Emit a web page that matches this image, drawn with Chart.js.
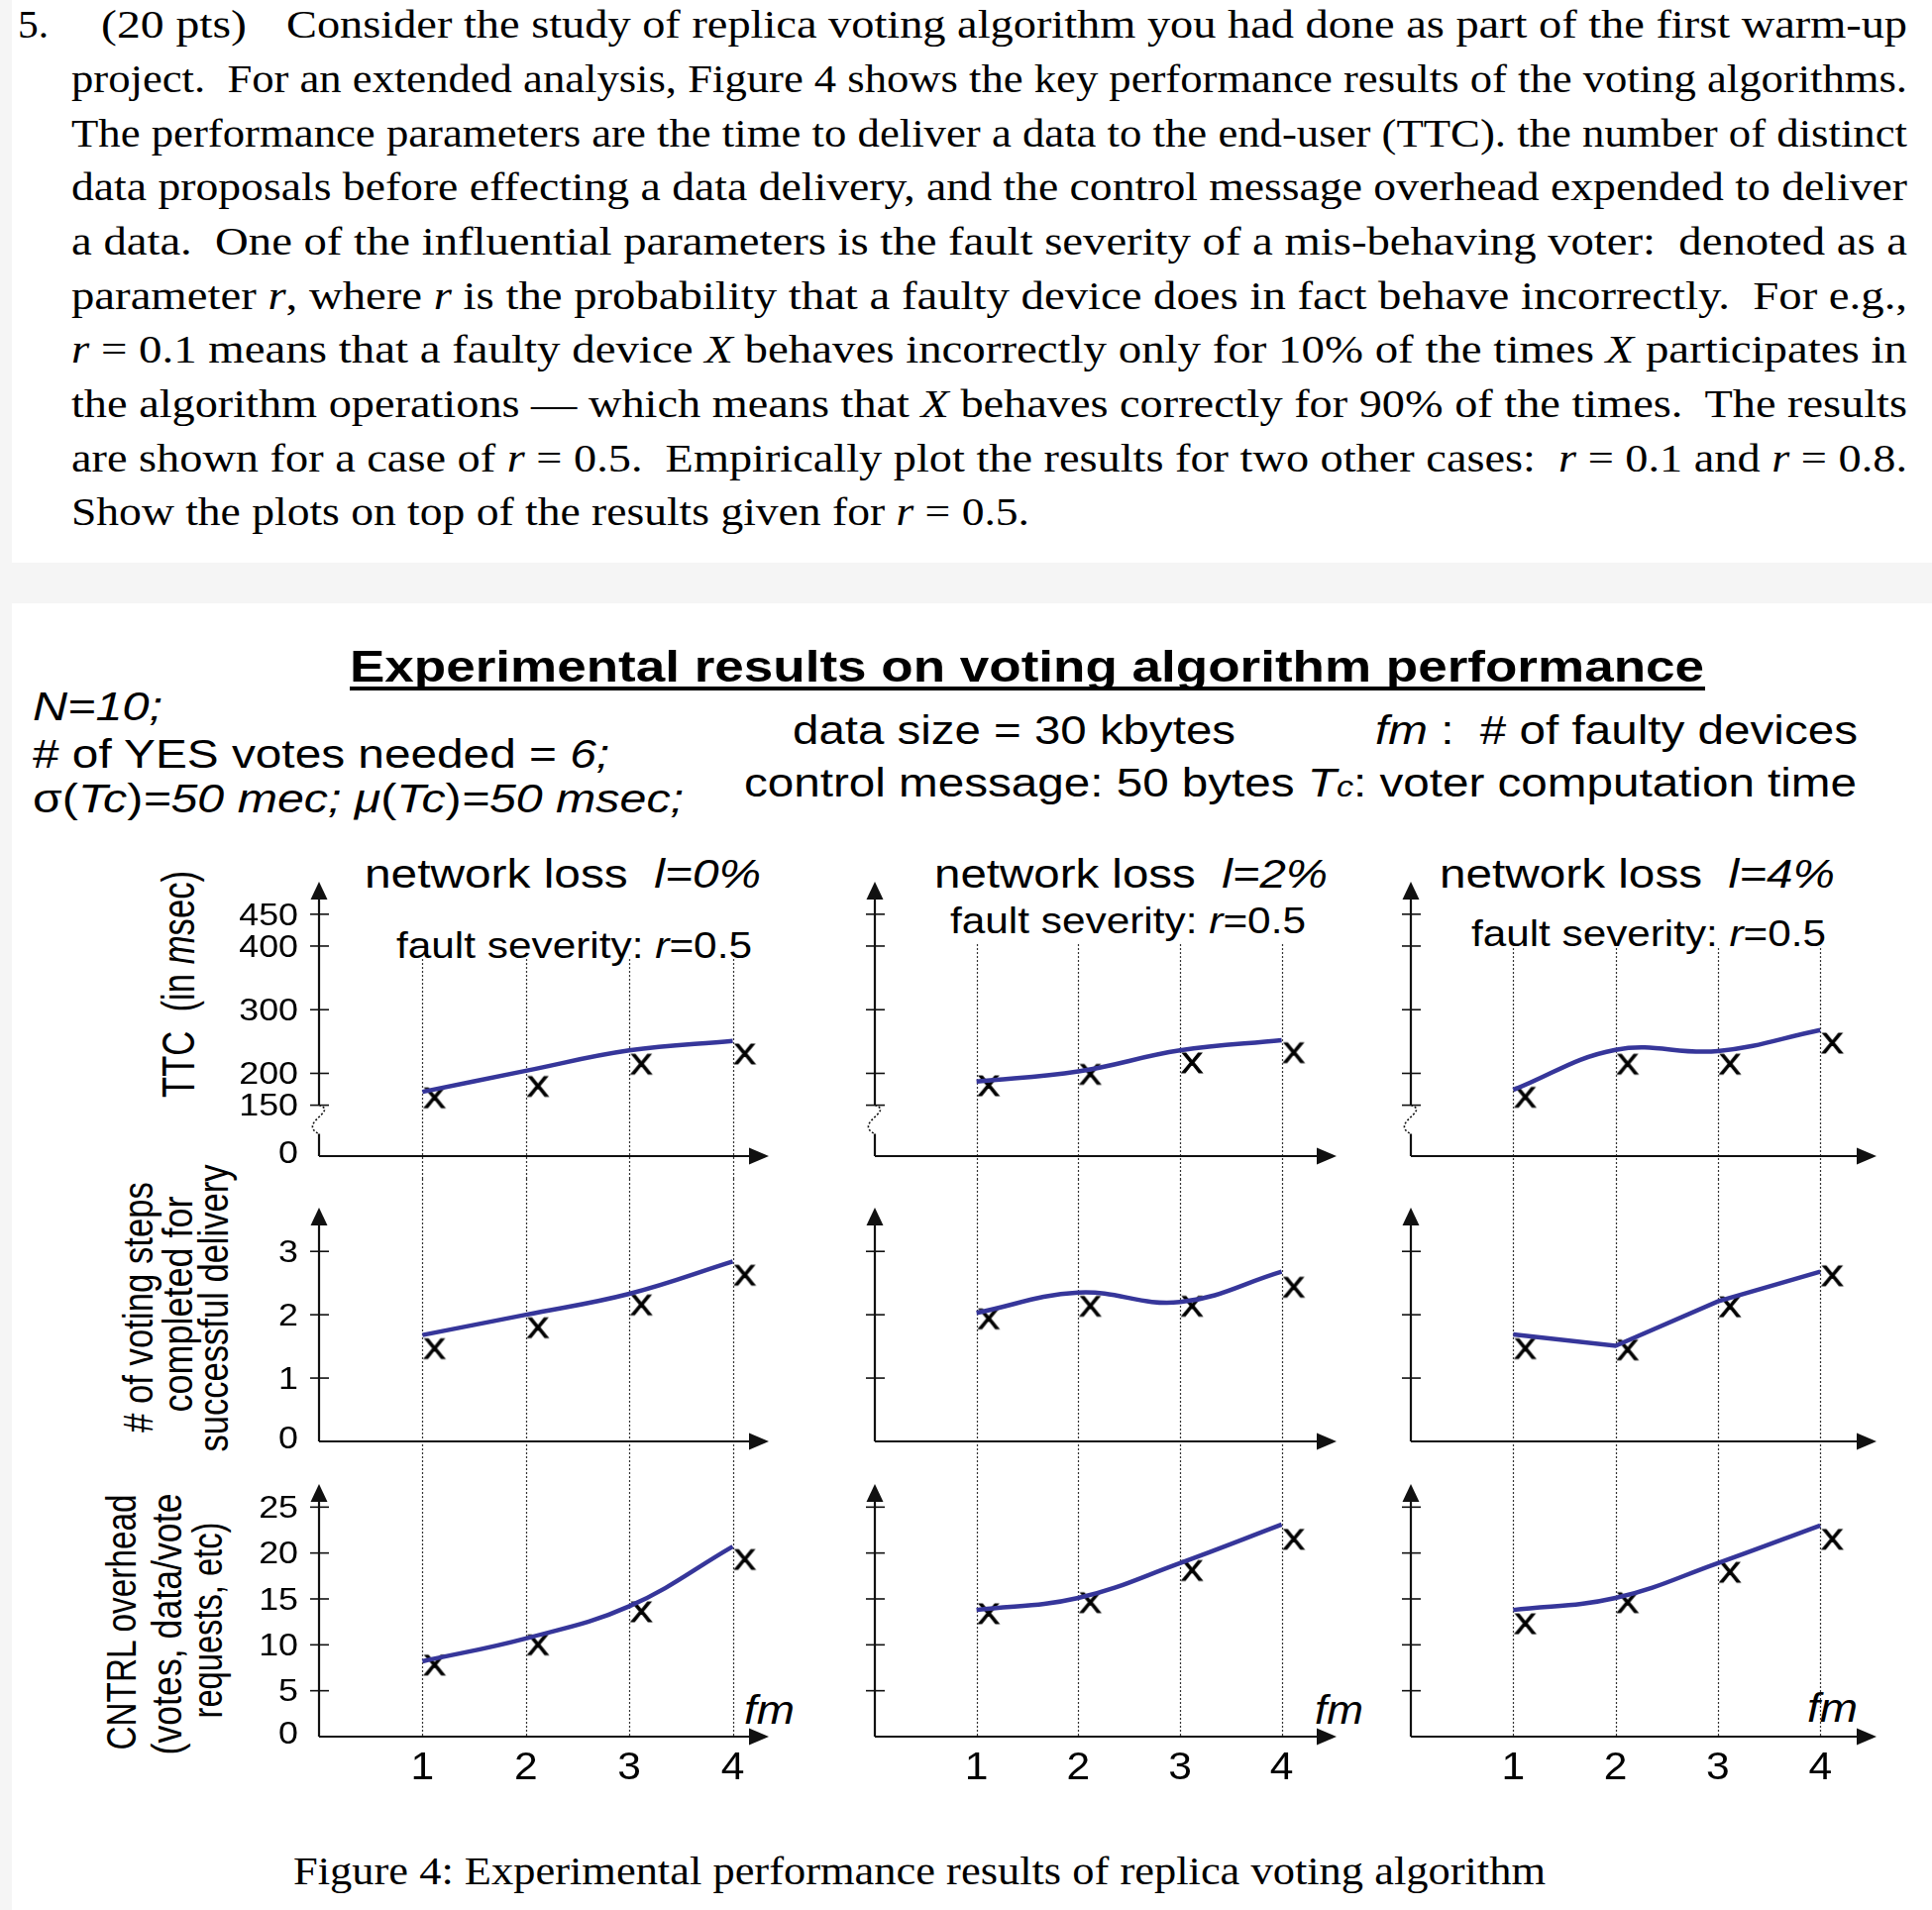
<!DOCTYPE html>
<html>
<head>
<meta charset="utf-8">
<script src="https://cdn.jsdelivr.net/npm/chart.js@4.4.0/dist/chart.umd.min.js"></script>
<style>
  body { margin: 0; width: 1950px; height: 1928px; background: #f5f5f5; position: relative; overflow: hidden; }
  .sheet { position: absolute; background: #fff; }
  .t { position: absolute; white-space: pre; line-height: 1; transform-origin: 0 0; color: #000;
       font-family: "Liberation Sans", Arial, sans-serif; }
  .serif { font-family: "Liberation Serif", "Times New Roman", serif; }
  canvas { position: absolute; }
</style>
</head>
<body>
<div class="sheet" style="left:12px;top:0;width:1938px;height:568px"></div>
<div class="sheet" style="left:12px;top:609px;width:1938px;height:1319px"></div>
<script>
// --- data (fm = number of faulty devices) ---
const fmValues = [1, 2, 3, 4];
const lossLabels = ['0%', '2%', '4%'];
const faultSeverity = '0.5';

// TTC (msec): fitted curve and measured "x" points, one array per network loss
const ttcCurve = [[171, 204, 236, 251], [187, 203, 236, 252], [174, 237, 235, 268]];
const ttcMarks = [[163, 181, 216, 232], [182, 200, 218, 234], [164, 216, 216, 249]];
// # of voting steps completed for successful delivery
const stepsCurve = [[1.68, 2.0, 2.33, 2.84], [2.03, 2.35, 2.2, 2.68], [1.69, 1.51, 2.21, 2.68]];
const stepsMarks = [[1.48, 1.81, 2.17, 2.64], [1.95, 2.15, 2.15, 2.45], [1.48, 1.46, 2.14, 2.63]];
// CNTRL overhead
const ctrlCurve = [[8.2, 10.7, 14.2, 20.7], [13.8, 15.1, 18.9, 23.1], [13.8, 15.1, 18.9, 23.0]];
const ctrlMarks = [[7.9, 10.1, 13.7, 19.4], [13.5, 14.7, 18.2, 21.6], [12.4, 14.7, 18.0, 21.6]];

// tick marks on the y axes
const ttcTicks = [150, 200, 300, 400, 450];
const stepsTicks = [1, 2, 3];
const ctrlTicks = [5, 10, 15, 20, 25];

const lineColor = '#36369a';

// --- helpers for text ---
function addText(html, x, w, cy, size, opts = {}) {
  const el = document.createElement('div');
  el.className = 't' + (opts.serif ? ' serif' : '');
  el.innerHTML = html;
  el.style.fontSize = size + 'px';
  if (opts.bold) el.style.fontWeight = 'bold';
  el.style.left = x + 'px';
  el.style.top = (cy - size * (opts.mid || 0.5)) + 'px';
  document.body.appendChild(el);
  const nat = el.getBoundingClientRect().width;
  el.style.transform = 'scaleX(' + (w / nat) + ')';
  return el;
}

function addVertical(html, cx, cy, len, size, thick) {
  const el = document.createElement('div');
  el.className = 't';
  el.innerHTML = html;
  el.style.fontSize = size + 'px';
  document.body.appendChild(el);
  const nat = el.getBoundingClientRect().width;
  el.style.left = (cx - nat / 2) + 'px';
  el.style.top = (cy - size / 2) + 'px';
  el.style.transformOrigin = '50% 50%';
  el.style.transform = 'rotate(-90deg) scale(' + (len / nat) + ',' + thick + ')';
}

// --- question text ---
const para = [
  [289, 1636, 'Consider the study of replica voting algorithm you had done as part of the first warm-up'],
  [72, 1853, 'project.  For an extended analysis, Figure 4 shows the key performance results of the voting algorithms.'],
  [72, 1853, 'The performance parameters are the time to deliver a data to the end-user (TTC). the number of distinct'],
  [72, 1853, 'data proposals before effecting a data delivery, and the control message overhead expended to deliver'],
  [72, 1853, 'a data.  One of the influential parameters is the fault severity of a mis-behaving voter:  denoted as a'],
  [72, 1853, 'parameter <i>r</i>, where <i>r</i> is the probability that a faulty device does in fact behave incorrectly.  For e.g.,'],
  [72, 1853, '<i>r</i> = 0.1 means that a faulty device <i>X</i> behaves incorrectly only for 10% of the times <i>X</i> participates in'],
  [72, 1853, 'the algorithm operations \u2014 which means that <i>X</i> behaves correctly for 90% of the times.  The results'],
  [72, 1853, 'are shown for a case of <i>r</i> = 0.5.  Empirically plot the results for two other cases:  <i>r</i> = 0.1 and <i>r</i> = 0.8.'],
  [72, 967, 'Show the plots on top of the results given for <i>r</i> = 0.5.']
];
para.forEach((p, i) => addText(p[2], p[0], p[1], 27.4 + 54.65 * i, 41, { serif: true, mid: 0.56 }));
addText('5.', 18, 31, 27.4, 41, { serif: true, mid: 0.56 });
addText('(20 pts)', 102, 147, 27.4, 41, { serif: true, mid: 0.56 });

// --- figure header ---
addText('Experimental results on voting algorithm performance', 353, 1367, 672, 45, { bold: true });
const ul = document.createElement('div');
ul.className = 'sheet';
ul.style.cssText = 'left:353px;top:693px;width:1368px;height:4px;background:#000';
document.body.appendChild(ul);

addText('<i>N=10;</i>', 33, 131, 713, 40);
addText('# of YES votes needed = <i>6;</i>', 33, 582, 761, 40);
addText('\u03c3(<i>Tc</i>)<i>=50 mec; \u03bc</i>(<i>Tc</i>)<i>=50 msec;</i>', 33, 657, 806, 40);
addText('data size = 30 kbytes', 800, 447, 737, 40);
addText('<i>fm</i> :  # of faulty devices', 1388, 487, 737, 40);
addText('control message: 50 bytes <i>T<span style="font-size:0.72em">c</span></i>: voter computation time', 751, 1123, 790, 40);

// panel titles
const lossPos = [[368, 400, 882], [943, 397, 882], [1453, 399, 882]];
const sevPos = [[400, 359, 955], [959, 359, 930], [1485, 358, 943]];
lossLabels.forEach((l, c) => {
  addText('network loss  <i>l=' + l + '</i>', lossPos[c][0], lossPos[c][1], lossPos[c][2], 41);
  addText('fault severity: <i>r</i>=' + faultSeverity, sevPos[c][0], sevPos[c][1], sevPos[c][2], 36);
});

// y axis titles
addVertical('TTC  (in <i>m</i>sec)', 180, 993, 229, 37, 1.25);
addVertical('# of voting steps', 139, 1319, 253, 35, 1.2);
addVertical('completed for', 179, 1316, 218, 35, 1.2);
addVertical('successful delivery', 215, 1320, 290, 35, 1.2);
addVertical('CNTRL overhead', 122, 1637, 258, 35, 1.2);
addVertical('(votes, data/vote', 168, 1639, 264, 35, 1.2);
addVertical('requests, etc)', 209, 1635, 198, 35, 1.2);

// fm labels near x arrows
addText('<i>fm</i>', 751, 51, 1726, 40);
addText('<i>fm</i>', 1327, 49, 1726, 40);
addText('<i>fm</i>', 1824, 51, 1724, 40);

addText('Figure 4: Experimental performance results of replica voting algorithm', 296, 1264, 1891, 41, { serif: true, mid: 0.56 });

// --- "X" marker used for measured points ---
function makeMark() {
  const c = document.createElement('canvas');
  c.width = 70; c.height = 44;
  const g = c.getContext('2d');
  g.fillStyle = '#000';
  g.strokeStyle = '#000';
  g.lineWidth = 1;
  g.font = '29px "Liberation Sans", Arial, sans-serif';
  g.textAlign = 'center';
  g.textBaseline = 'alphabetic';
  g.translate(35 + 12, 22 + 10.5);
  g.scale(1.15, 1);
  g.fillText('X', 0, 0);
  g.strokeText('X', 0, 0);
  return c;
}
const xMark = makeMark();

// hand drawn looking axes: arrows, crossing ticks, dotted fm lines
const sketchAxes = {
  id: 'sketchAxes',
  beforeDatasetsDraw(chart, args, o) {
    const { ctx, chartArea: a } = chart;
    const xs = chart.scales.x, ys = chart.scales.y;
    const x0 = xs.getPixelForValue(0), yb = a.bottom, yt = a.top, xr = a.right;
    ctx.save();

    ctx.strokeStyle = '#333';
    ctx.lineWidth = 1.2;
    ctx.setLineDash([2, 2]);
    fmValues.forEach(v => {
      const px = Math.round(xs.getPixelForValue(v)) + 0.5;
      ctx.beginPath();
      ctx.moveTo(px, o.gridFrom);
      ctx.lineTo(px, o.gridToAxis ? yb : chart.height);
      ctx.stroke();
    });
    ctx.setLineDash([]);

    ctx.strokeStyle = '#111';
    ctx.fillStyle = '#111';
    ctx.lineWidth = 2.2;
    // y axis (with broken segment for TTC)
    ctx.beginPath();
    if (o.breakAt != null) {
      const yB = ys.getPixelForValue(o.breakAt);
      ctx.moveTo(x0, yt + 10); ctx.lineTo(x0, yB);
      ctx.moveTo(x0, yB + 29); ctx.lineTo(x0, yb);
      ctx.stroke();
      ctx.save();
      ctx.lineWidth = 1.6;
      ctx.setLineDash([2, 2]);
      ctx.beginPath();
      ctx.moveTo(x0, yB);
      ctx.bezierCurveTo(x0 + 20, yB + 6, x0 - 22, yB + 18, x0, yB + 29);
      ctx.stroke();
      ctx.restore();
    } else {
      ctx.moveTo(x0, yt + 10); ctx.lineTo(x0, yb);
      ctx.stroke();
    }
    // x axis
    ctx.beginPath();
    ctx.moveTo(x0, yb); ctx.lineTo(xr - 10, yb);
    ctx.stroke();
    // arrow heads
    ctx.beginPath();
    ctx.moveTo(x0, yt - 2); ctx.lineTo(x0 - 8.5, yt + 16); ctx.lineTo(x0 + 8.5, yt + 16); ctx.closePath();
    ctx.fill();
    ctx.beginPath();
    ctx.moveTo(xr + 2, yb); ctx.lineTo(xr - 18, yb - 8.5); ctx.lineTo(xr - 18, yb + 8.5); ctx.closePath();
    ctx.fill();

    // ticks crossing the y axis
    ctx.lineWidth = 1.6;
    o.ticks.forEach(v => {
      const py = ys.getPixelForValue(v);
      ctx.beginPath(); ctx.moveTo(x0 - 9, py); ctx.lineTo(x0 + 10, py); ctx.stroke();
    });

    ctx.fillStyle = '#000';
    if (o.showLabels) {
      ctx.font = '32px "Liberation Sans", Arial, sans-serif';
      ctx.textAlign = 'right';
      ctx.textBaseline = 'middle';
      [ys.min].concat(o.ticks).forEach(v => {
        const py = v === ys.min ? yb - 2 : ys.getPixelForValue(v) + 2;
        ctx.save();
        ctx.translate(x0 - 21, py);
        ctx.scale(1.12, 1);
        ctx.fillText(v === ys.min ? '0' : String(v), 0, 0);
        ctx.restore();
      });
    }
    if (o.xLabels) {
      ctx.font = '38px "Liberation Sans", Arial, sans-serif';
      ctx.textAlign = 'center';
      ctx.textBaseline = 'middle';
      fmValues.forEach(v => {
        ctx.save();
        ctx.translate(xs.getPixelForValue(v), yb + 33);
        ctx.scale(1.12, 1);
        ctx.fillText(String(v), 0, 0);
        ctx.restore();
      });
    }
    ctx.restore();
  }
};

// --- panel layout ---
const cols = [
  { axisX: 322, unit: 104.4, xMax: 4.33, gridTop: 968 },
  { axisX: 883, unit: 102.6, xMax: 4.52, gridTop: 953 },
  { axisX: 1424, unit: 103.3, xMax: 4.53, gridTop: 957 }
];
const rows = [
  { top: 860, bottom: 1190, yTop: 892, yBot: 1167, min: 70, max: 498, ticks: ttcTicks, curve: ttcCurve, marks: ttcMarks, breakAt: 150 },
  { top: 1190, bottom: 1478, yTop: 1221, yBot: 1455, min: 0, max: 3.66, ticks: stepsTicks, curve: stepsCurve, marks: stepsMarks },
  { top: 1478, bottom: 1812, yTop: 1500, yBot: 1753, min: 0, max: 27.3, ticks: ctrlTicks, curve: ctrlCurve, marks: ctrlMarks }
];

rows.forEach((row, r) => {
  cols.forEach((col, c) => {
    const canvas = document.createElement('canvas');
    const width = Math.round(100 + col.unit * col.xMax + 30);
    const height = row.bottom - row.top;
    canvas.width = width;
    canvas.height = height;
    canvas.style.left = (col.axisX - 100) + 'px';
    canvas.style.top = row.top + 'px';
    document.body.appendChild(canvas);

    new Chart(canvas, {
      type: 'line',
      data: {
        datasets: [{
          data: fmValues.map((f, i) => ({ x: f, y: row.curve[c][i] })),
          borderColor: lineColor,
          borderWidth: 4.5,
          pointRadius: 0,
          fill: false,
          tension: (r === 1 && c === 2) ? 0 : 0.4
        }, {
          data: fmValues.map((f, i) => ({ x: f, y: row.marks[c][i] })),
          showLine: false,
          pointStyle: xMark,
          pointRadius: 10
        }]
      },
      options: {
        responsive: false,
        animation: false,
        events: [],
        clip: false,
        layout: { padding: { left: 100, right: 30, top: row.yTop - row.top, bottom: row.bottom - row.yBot } },
        scales: {
          x: { type: 'linear', display: false, min: 0, max: col.xMax },
          y: { type: 'linear', display: false, min: row.min, max: row.max }
        },
        plugins: {
          legend: { display: false },
          tooltip: { enabled: false },
          sketchAxes: {
            ticks: row.ticks,
            breakAt: row.breakAt,
            showLabels: c === 0,
            xLabels: r === 2,
            gridFrom: r === 0 ? col.gridTop - row.top : 0,
            gridToAxis: r === 2
          }
        }
      },
      plugins: [sketchAxes]
    });
  });
});
</script>
</body>
</html>
